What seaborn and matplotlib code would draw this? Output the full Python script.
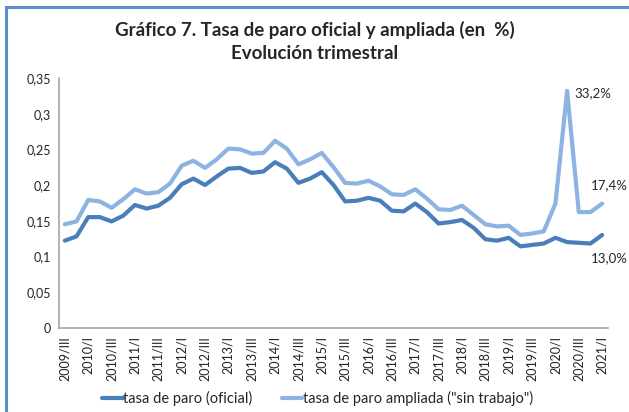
import numpy as np
import pandas as pd
import matplotlib
matplotlib.use('Agg')
import matplotlib.pyplot as plt
from matplotlib.lines import Line2D
from matplotlib.patches import Rectangle
import seaborn as sns

# quarters 2009/III .. 2021/I
roman = ['I', 'II', 'III', 'IV']
quarters = [f'{y}/{roman[q]}' for y in range(2009, 2022) for q in range(4)]
quarters = quarters[2:2 + 47]

oficial = [0.122, 0.128, 0.155, 0.155, 0.149, 0.157, 0.172, 0.167, 0.171, 0.182,
           0.201, 0.209, 0.200, 0.212, 0.223, 0.224, 0.217, 0.219, 0.232, 0.223,
           0.203, 0.209, 0.218, 0.200, 0.177, 0.178, 0.182, 0.178, 0.164, 0.163,
           0.174, 0.162, 0.146, 0.148, 0.151, 0.140, 0.124, 0.122, 0.126, 0.114,
           0.116, 0.118, 0.126, 0.120, 0.119, 0.118, 0.130]
ampliada = [0.145, 0.149, 0.179, 0.177, 0.168, 0.180, 0.194, 0.188, 0.190, 0.202,
            0.227, 0.234, 0.224, 0.236, 0.251, 0.250, 0.244, 0.245, 0.262, 0.251,
            0.229, 0.236, 0.245, 0.225, 0.203, 0.202, 0.206, 0.198, 0.187, 0.186,
            0.194, 0.181, 0.166, 0.165, 0.171, 0.158, 0.145, 0.142, 0.143, 0.130,
            0.132, 0.135, 0.174, 0.332, 0.162, 0.162, 0.174]

yticks = [0, 0.05, 0.1, 0.15, 0.2, 0.25, 0.3, 0.35]
ytick_labels = ['0', '0,05', '0,1', '0,15', '0,2', '0,25', '0,3', '0,35']

df = pd.DataFrame({'idx': range(len(quarters)), 'trimestre': quarters,
                   'oficial': oficial, 'ampliada': ampliada})

sns.set_style('white')
plt.rcParams['font.family'] = ['Lato', 'DejaVu Sans']

dark = '#4a7ebb'
light = '#8db3e2'

fig = plt.figure(figsize=(6.29, 4.12), dpi=100)
ax = fig.add_axes([0.0938, 0.2046, 0.8728, 0.6061])

sns.lineplot(data=df, x='idx', y='oficial', color=dark, lw=3, ax=ax)
sns.lineplot(data=df, x='idx', y='ampliada', color=light, lw=3, ax=ax)

ax.set_xlim(-0.5, len(quarters) - 0.5)
ax.set_ylim(0, 0.35)
ax.set_yticks(yticks)
ax.set_yticklabels(ytick_labels, fontsize=9)
ax.set_xticks(df['idx'][::2])
ax.set_xticklabels(df['trimestre'][::2], rotation=90, fontsize=9)
ax.tick_params(axis='both', length=0, pad=6, colors='#222222')
ax.set_xlabel('')
ax.set_ylabel('')
for s in ['top', 'right']:
    ax.spines[s].set_visible(False)
for s in ['left', 'bottom']:
    ax.spines[s].set_color('#a6a6a6')
    ax.spines[s].set_linewidth(1.2)

# value labels
ax.annotate('33,2%', (43, ampliada[43]), xytext=(5, -2), textcoords='offset points',
            fontsize=9.5, va='center', ha='left')
ax.annotate('17,4%', (46, ampliada[46]), xytext=(-8, 13), textcoords='offset points',
            fontsize=9.5, va='center', ha='left')
ax.annotate('13,0%', (46, oficial[46]), xytext=(-8, -17), textcoords='offset points',
            fontsize=9.5, va='center', ha='left')

fig.text(0.5, 0.928, 'Gráfico 7. Tasa de paro oficial y ampliada (en  %)',
         ha='center', va='center', fontsize=13.5, fontweight='bold')
fig.text(0.5, 0.870, 'Evolución trimestral', ha='center', va='center',
         fontsize=13.5, fontweight='bold')

handles = [Line2D([], [], color=dark, lw=3), Line2D([], [], color=light, lw=3)]
fig.legend(handles, ['tasa de paro (oficial)', 'tasa de paro ampliada ("sin trabajo")'],
           loc='center', bbox_to_anchor=(0.505, 0.033), ncol=2, frameon=False,
           fontsize=10.5, handlelength=1.4, handletextpad=0.05, columnspacing=2.0)

# outer chart frame (left and top edges visible)
fig.patches.append(Rectangle((6.5 / 629, -0.1), 1.2, 1.1 - 7.5 / 412,
                             transform=fig.transFigure, fill=False,
                             edgecolor='#5b8ed0', lw=2.2))

fig.savefig('out.png', dpi=100)
